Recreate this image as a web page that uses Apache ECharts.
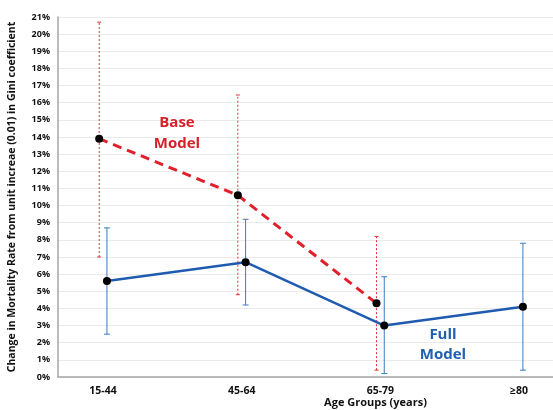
<!DOCTYPE html>
<html>
<head>
<meta charset="utf-8">
<script src="https://cdn.jsdelivr.net/npm/echarts@6/dist/echarts.min.js"></script>
<style>
  html, body { margin: 0; padding: 0; background: #fff; }
  #chart { width: 553px; height: 410px; }
</style>
</head>
<body>
<div id="chart"></div>
<script>
// age groups and model estimates (%), with confidence bounds
const categories = ['15-44', '45-64', '65-79', '≥80'];
const baseValues = [13.9, 10.6, 4.3];
const baseLow = [7.0, 4.8, 0.4];
const baseHigh = [20.7, 16.45, 8.2];
const fullValues = [5.6, 6.7, 3.0, 4.1];
const fullLow = [2.5, 4.2, 0.2, 0.4];
const fullHigh = [8.7, 9.2, 5.85, 7.8];

const baseShift = -0.028;
const fullShift = 0.028;
const fontFamily = '"Open Sans", "Liberation Sans", sans-serif';

const baseData = baseValues.map((v, i) => [i + baseShift, v]);
const fullData = fullValues.map((v, i) => [i + fullShift, v]);
const baseErr = baseValues.map((v, i) => [i + baseShift, baseLow[i], baseHigh[i]]);
const fullErr = fullValues.map((v, i) => [i + fullShift, fullLow[i], fullHigh[i]]);

const errorBar = (color, dash, cap) => (params, api) => {
  const x = api.value(0);
  const lo = api.coord([x, api.value(1)]);
  const hi = api.coord([x, api.value(2)]);
  return {
    type: 'group',
    children: [
      { type: 'line', shape: { x1: lo[0], y1: lo[1], x2: hi[0], y2: hi[1] }, style: { stroke: color, lineWidth: 1, lineDash: dash } },
      { type: 'line', shape: { x1: lo[0] - cap, y1: lo[1], x2: lo[0] + cap, y2: lo[1] }, style: { stroke: color, lineWidth: 1 } },
      { type: 'line', shape: { x1: hi[0] - cap, y1: hi[1], x2: hi[0] + cap, y2: hi[1] }, style: { stroke: color, lineWidth: 1 } }
    ]
  };
};

const label = (text, x, y, color) => ({
  type: 'text',
  x,
  y,
  z: 10,
  style: {
    text,
    fill: color,
    font: 'bold 15px "Open Sans", sans-serif',
    align: 'center',
    verticalAlign: 'middle'
  }
});

const chart = echarts.init(document.getElementById('chart'));
chart.setOption({
  animation: false,
  grid: { left: 58, right: 0, top: 17, bottom: 33, outerBoundsMode: 'none' },
  xAxis: {
    type: 'value',
    min: -0.325,
    max: 3.245,
    name: 'Age Groups (years)',
    nameLocation: 'middle',
    nameGap: 20,
    nameMoveOverlap: false,
    nameTextStyle: { color: '#111', fontSize: 11, fontWeight: 'bold', fontFamily, padding: [0, 0, 0, 140] },
    axisLine: { onZero: false, lineStyle: { color: '#a6a6a6', width: 1.5 } },
    axisTick: { show: false },
    splitLine: { show: false },
    axisLabel: {
      customValues: [0, 1, 2, 3],
      formatter: v => categories[Math.round(v)],
      color: '#111',
      fontSize: 10.5,
      fontWeight: 'bold',
      fontFamily,
      margin: 9
    }
  },
  yAxis: {
    type: 'value',
    min: 0,
    max: 21,
    interval: 1,
    name: 'Change in Mortality Rate from unit increae (0.01) in Gini coefficient',
    nameLocation: 'middle',
    nameGap: 40,
    nameMoveOverlap: false,
    nameTextStyle: { color: '#111', fontSize: 10.5, fontWeight: 'bold', fontFamily },
    axisLine: { show: true, onZero: false, lineStyle: { color: '#a6a6a6', width: 1.5 } },
    axisTick: { show: false },
    splitLine: { lineStyle: { color: '#ebebeb', width: 1 } },
    axisLabel: {
      formatter: '{value}%',
      color: '#111',
      fontSize: 9,
      fontWeight: 'bold',
      fontFamily,
      margin: 8
    }
  },
  series: [
    {
      type: 'custom',
      renderItem: errorBar('#e0303a', [2, 2], 2),
      data: baseErr,
      z: 1
    },
    {
      type: 'custom',
      renderItem: errorBar('#3a7cc2', null, 3),
      data: fullErr,
      z: 1
    },
    {
      name: 'Base Model',
      type: 'line',
      data: baseData,
      symbol: 'circle',
      symbolSize: 8,
      itemStyle: { color: '#000' },
      lineStyle: { color: '#e0202a', width: 3, type: [9, 6] },
      z: 3
    },
    {
      name: 'Full Model',
      type: 'line',
      data: fullData,
      symbol: 'circle',
      symbolSize: 8,
      itemStyle: { color: '#000' },
      lineStyle: { color: '#1f5bb0', width: 2.5 },
      z: 4
    }
  ],
  graphic: [
    label('Base', 177, 123, '#d8202a'),
    label('Model', 177, 144, '#d8202a'),
    label('Full', 443, 335, '#2060b0'),
    label('Model', 443, 355, '#2060b0')
  ]
});
</script>
</body>
</html>
